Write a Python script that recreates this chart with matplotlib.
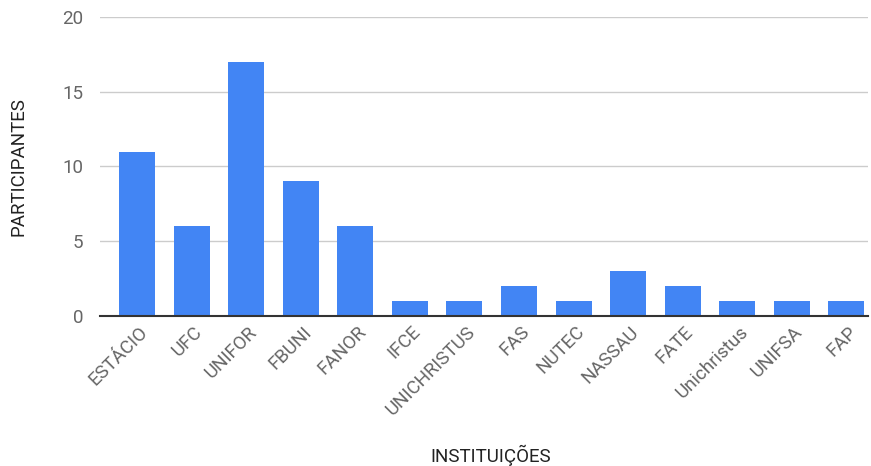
import matplotlib
matplotlib.use("Agg")
import matplotlib.pyplot as plt
from matplotlib.transforms import ScaledTranslation

instituicoes = ["ESTÁCIO", "UFC", "UNIFOR", "FBUNI", "FANOR", "IFCE", "UNICHRISTUS",
                "FAS", "NUTEC", "NASSAU", "FATE", "Unichristus", "UNIFSA", "FAP"]
participantes = [11, 6, 17, 9, 6, 1, 1, 2, 1, 3, 2, 1, 1, 1]
y_ticks = [0, 5, 10, 15, 20]

plt.rcParams['font.family'] = ['Roboto', 'DejaVu Sans']

fig = plt.figure(figsize=(8.71, 4.66), dpi=100)
ax = fig.add_axes([0.115, 0.322, 0.8816, 0.6415])

x = list(range(len(instituicoes)))
ax.bar(x, participantes, width=0.66, color="#4285f4", zorder=3)

ax.set_ylim(0, 20)
ax.set_xlim(-0.68, len(instituicoes) - 0.6)
ax.set_yticks(y_ticks)
ax.set_xticks(x)
ax.set_xticklabels([])

# rótulos do eixo x, deslocados um pouco para a direita e para baixo
offset = ScaledTranslation(8 / 100, -13 / 100, fig.dpi_scale_trans)
for xi, nome in zip(x, instituicoes):
    ax.text(xi, 0, nome, transform=ax.get_xaxis_transform() + offset,
            rotation=45, ha="right", va="center", rotation_mode="anchor",
            fontsize=13.5, color="#666666")

ax.grid(axis="y", color="#cccccc", linewidth=1, zorder=0)
for s in ["top", "right", "left"]:
    ax.spines[s].set_visible(False)
ax.spines["bottom"].set_color("#333333")
ax.spines["bottom"].set_linewidth(1.5)
ax.spines["bottom"].set_zorder(4)

ax.tick_params(axis="both", length=0, colors="#666666", labelsize=13.5)
ax.tick_params(axis="y", pad=12)

ax.set_xlabel("INSTITUIÇÕES", fontsize=13.5, color="#222222", va="center")
ax.xaxis.set_label_coords(0.508, -0.468)
ax.set_ylabel("PARTICIPANTES", fontsize=13.5, color="#222222", va="center")
ax.yaxis.set_label_coords(-0.107, 0.5)

fig.savefig("out.png", dpi=100)
